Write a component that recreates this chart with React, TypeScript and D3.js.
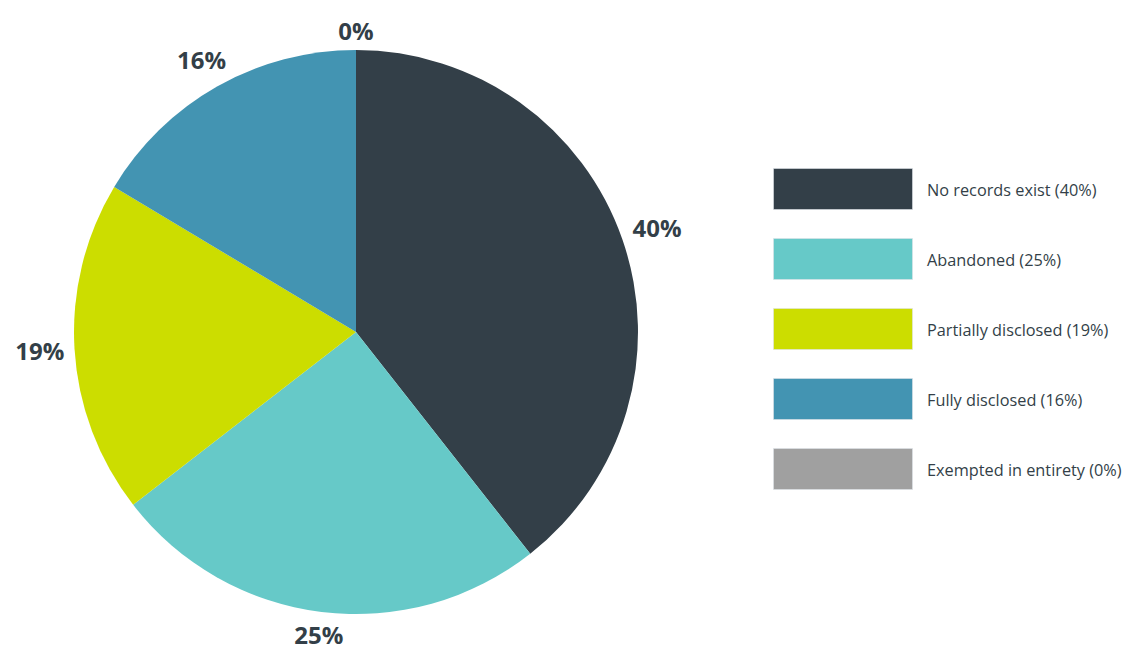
import React from "react";
import * as d3 from "d3";

const categories = ["No records exist", "Abandoned", "Partially disclosed", "Fully disclosed", "Exempted in entirety"];
const values = [39.4, 25.1, 19.1, 16.4, 0];
const labels = ["40%", "25%", "19%", "16%", "0%"];
const colors = ["#333F48", "#66C9C8", "#CCDD00", "#4394B2", "#A0A0A0"];

const W = 1141;
const H = 661;
const cx = 356;
const cy = 332;
const R = 282;
const FONT = "'Open Sans', 'Noto Sans', sans-serif";
const TEXT = "#333F48";

export default function App() {
  const pie = d3.pie<number>().sort(null).value((d) => d);
  const arcs = pie(values);
  const arc = d3.arc<d3.PieArcDatum<number>>().innerRadius(0).outerRadius(R);

  const legendY = d3
    .scaleBand<string>()
    .domain(categories)
    .range([168, 490])
    .paddingInner(0.4)
    .paddingOuter(0);

  return (
    <svg width={W} height={H} style={{ position: "absolute", left: 0, top: 0, background: "#fff" }}>
      <g transform={`translate(${cx},${cy})`}>
        {arcs.map((a, i) => (
          <path key={i} d={arc(a) || ""} fill={colors[i]} />
        ))}
        {arcs.map((a, i) => {
          const mid = (a.startAngle + a.endAngle) / 2;
          const hw = labels[i].length * 8.7;
          const hh = 12;
          const proj = Math.abs(Math.sin(mid)) * hw + Math.abs(Math.cos(mid)) * hh;
          const r = R + 8 + proj;
          const x = Math.sin(mid) * r;
          const y = -Math.cos(mid) * r;
          return (
            <text
              key={i}
              x={x}
              y={y}
              textAnchor="middle"
              dominantBaseline="central"
              fontFamily={FONT}
              fontWeight={700}
              fontSize={24}
              fill={TEXT}
            >
              {labels[i]}
            </text>
          );
        })}
      </g>
      {categories.map((c, i) => {
        const y0 = legendY(c)!;
        const h = legendY.bandwidth();
        return (
          <g key={c}>
            <rect x={773.5} y={y0 + 0.5} width={139} height={h - 1} fill={colors[i]} stroke="#dde3e8" strokeOpacity={0.6} strokeWidth={1} />
            <text x={927} y={y0 + h / 2 + 1} dominantBaseline="central" fontFamily={FONT} fontSize={16.3} fill={TEXT}>
              {`${c} (${labels[i]})`}
            </text>
          </g>
        );
      })}
    </svg>
  );
}
